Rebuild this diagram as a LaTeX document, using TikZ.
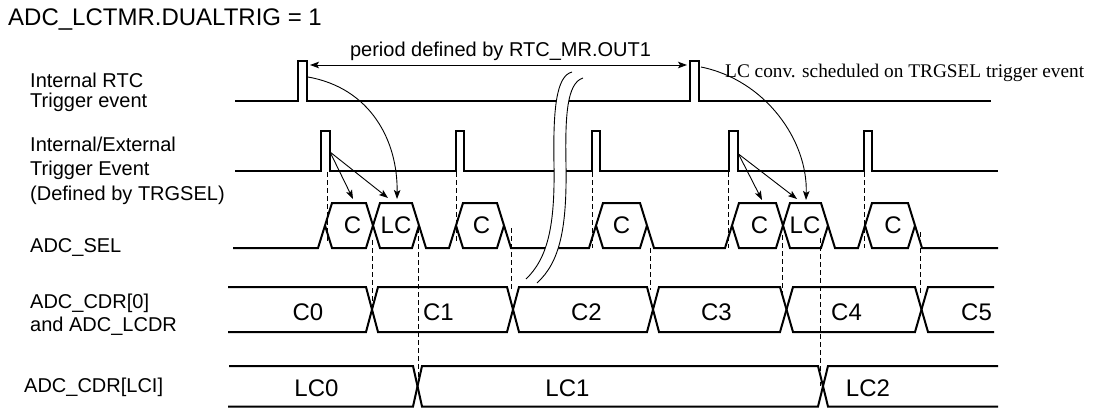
\documentclass[tikz,border=0pt]{standalone}
\usepackage{fontspec}
\setmainfont{Liberation Sans}
\newfontfamily\serifx{Liberation Serif}
\usetikzlibrary{arrows.meta}
\begin{document}
\begin{tikzpicture}[x=1pt,y=-1pt,
  sig/.style={line width=2pt, line join=miter},
  thn/.style={line width=0.9pt},
  dsh/.style={line width=0.9pt, dash pattern=on 5pt off 3pt},
  arr/.style={thn, -{Stealth[length=9pt,width=6.5pt,inset=2pt]}},
  lbl/.style={anchor=base west, inner sep=0pt, font=\fontsize{20}{24}\selectfont},
  big/.style={inner sep=0pt, font=\fontsize{24}{28}\selectfont},
]
\useasboundingbox (0,0) rectangle (1094,409);

% title and labels
\node[big, anchor=base west] (title) at (8,26) {ADC\_LCTMR.DUALTRIG = 1};
\node[lbl] (l1a) at (30,88) {Internal RTC};
\node[lbl] (l1b) at (30,108) {Trigger event};
\node[lbl] (l2a) at (30,151) {Internal/External};
\node[lbl] (l2b) at (30,175) {Trigger Event};
\node[lbl] (l2c) at (30,200) {(Defined by TRGSEL)};
\node[lbl] (l3) at (30,252) {ADC\_SEL};
\node[lbl] (l4a) at (30,308) {ADC\_CDR[0]};
\node[lbl] (l4b) at (30,331) {and ADC\_LCDR};
\node[lbl] (l5) at (24,392) {ADC\_CDR[LCI]};

% row 1: RTC trigger
\draw[sig] (235,101) -- (298,101) -- (298,61) -- (307,61) -- (307,101) -- (690,101)
  -- (690,61) -- (699,61) -- (699,101) -- (991,101);
% row 2: trigger events
\draw[sig] (235,171) -- (321,171) -- (321,131) -- (329.5,131) -- (329.5,171)
  -- (456,171) -- (456,131) -- (464,131) -- (464,171)
  -- (592,171) -- (592,131) -- (600,131) -- (600,171)
  -- (729,171) -- (729,131) -- (737.5,131) -- (737.5,171)
  -- (864,171) -- (864,131) -- (872,131) -- (872,171) -- (998,171);

% ADC_SEL
\draw[sig] (233,248) -- (318,248) -- (332,203) -- (366,203) -- (380,248) -- (412,248) -- (419,225.5);
\draw[sig] (325,225.5) -- (332,248) -- (366,248) -- (380,203) -- (412,203) -- (426,248)
  -- (449,248) -- (463,203) -- (497,203) -- (511,248)
  -- (589,248) -- (603,203) -- (640,203) -- (654,248)
  -- (725,248) -- (739,203) -- (776,203) -- (790,248) -- (821,248) -- (828,225.5);
\draw[sig] (456,225.5) -- (463,248) -- (497,248) -- (504,225.5);
\draw[sig] (596,225.5) -- (603,248) -- (640,248) -- (647,225.5);
\draw[sig] (732,225.5) -- (739,248) -- (776,248) -- (790,203) -- (821,203) -- (835,248)
  -- (858,248) -- (872,203) -- (908,203) -- (922,248) -- (998,248);
\draw[sig] (865,225.5) -- (872,248) -- (908,248) -- (915,225.5);

\foreach \n/\x/\t in {s1/352.5/C, s2/396/LC, s3/481.5/C, s4/621.5/C, s5/759.5/C, s6/805/LC, s7/893/C}
  \node[big] (\n) at (\x,225.5) {\t};

% ADC_CDR[0] bus
\draw[sig] (228,287) -- (366,287) -- (378,332) -- (507,332) -- (519,287) -- (647,287) -- (659,332)
  -- (780,332) -- (793,287) -- (915,287) -- (928,332) -- (994,332);
\draw[sig] (228,332) -- (366,332) -- (378,287) -- (507,287) -- (519,332) -- (647,332) -- (659,287)
  -- (780,287) -- (793,332) -- (915,332) -- (928,287) -- (994,287);
\foreach \n/\x/\t in {c0/308/C0, c1/438.5/C1, c2/586.5/C2, c3/716.5/C3, c4/846.5/C4, c5/976.5/C5}
  \node[big] (\n) at (\x,312.5) {\t};

% ADC_CDR[LCI] bus
\draw[sig] (229,366) -- (413,366) -- (422,406.5) -- (818,406.5) -- (828,366) -- (998,366);
\draw[sig] (228,406.5) -- (413,406.5) -- (422,366) -- (818,366) -- (828,406.5) -- (998,406.5);
\foreach \n/\x/\t in {lc0/316.5/LC0, lc1/567.5/LC1, lc2/868/LC2}
  \node[big] (\n) at (\x,388.5) {\t};

% dashed guides
\foreach \x/\a/\b in {327.5/172/243, 456/172/243, 592/172/248, 728/172/248, 864/172/248,
  372.5/240/310, 418/228/386, 511/228/290, 650/248/290, 782.5/235/293, 820/238/386, 920/232/293}
  \draw[dsh] (\x,\a) -- (\x,\b);

% break marks
\fill[white] (572,72) .. controls (556,76) and (553,110) .. (554,165)
  .. controls (555,225) and (548,258) .. (526,279) -- (537,283)
  .. controls (560,262) and (567,228) .. (566,165)
  .. controls (565,115) and (567,83) .. (583,78) -- cycle;
\draw[thn] (572,72) .. controls (556,76) and (553,110) .. (554,165)
  .. controls (555,225) and (548,258) .. (526,279);
\draw[thn] (583,78) .. controls (567,83) and (565,115) .. (566,165)
  .. controls (567,228) and (560,262) .. (537,283);

% period arrow
\coordinate (pl) at (310,65);
\coordinate (pr) at (687,65);
\draw[thn, {Stealth[length=9pt,width=6.5pt,inset=2pt]}-{Stealth[length=9pt,width=6.5pt,inset=2pt]}] (pl) -- (pr);
\node[lbl, anchor=base] (period) at (500.5,57) {period defined by RTC\_MR.OUT1};

% LC note
\node[anchor=base west, inner sep=0pt, font=\serifx\fontsize{19.3}{22}\selectfont] (note) at (725,78)
  {LC conv. scheduled on TRGSEL trigger event};

% trigger arrows
\coordinate (tA) at (330,152);
\coordinate (tD) at (738.5,154);
\coordinate (r1) at (308,77);
\coordinate (r2) at (701,67);
\coordinate (hC1) at (353,199);
\coordinate (hL1) at (388,198);
\coordinate (hR1) at (397,199);
\coordinate (hC5) at (762,200);
\coordinate (hL5) at (797,199);
\coordinate (hR5) at (806,200);
\draw[arr] (tA) -- (hC1);
\draw[arr] (tA) -- (hL1);
\draw[arr] (tD) -- (hC5);
\draw[arr] (tD) -- (hL5);
\draw[arr] (r1) .. controls (370,88) and (398,140) .. (hR1);
\draw[arr] (r2) .. controls (765,80) and (808,140) .. (hR5);
\end{tikzpicture}
\end{document}
